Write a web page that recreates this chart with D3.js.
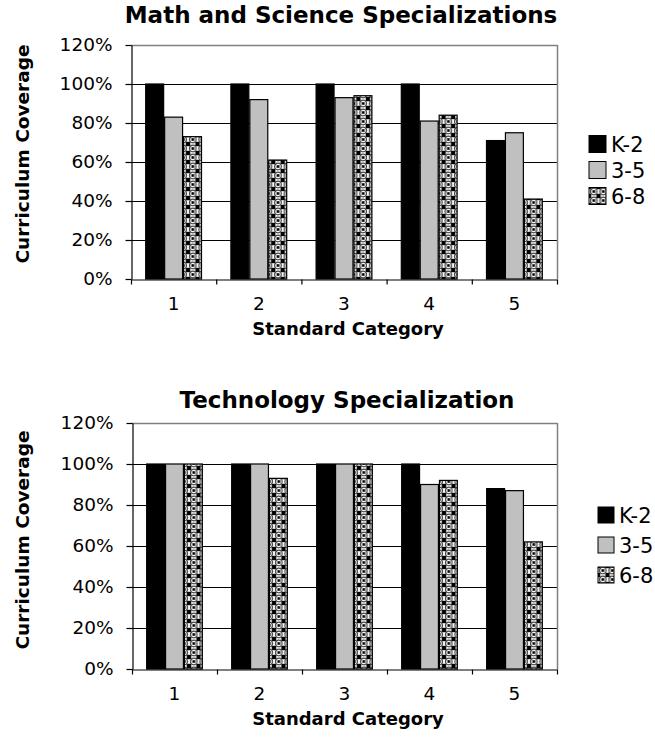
<html>
<script src='https://d3js.org/d3.v7.min.js'></script>
<style>
body {margin:0; background:#fff;}
text {font-family: 'DejaVu Sans', Verdana, sans-serif; fill:#000;}
</style>
<body>
<svg id='chart' width='655' height='740'></svg>
<script>
// data
const categories = ['1', '2', '3', '4', '5'];
const series = ['K-2', '3-5', '6-8'];
const yTicks = [0, 20, 40, 60, 80, 100, 120];

const mathK2 = [100, 100, 100, 100, 71];
const math35 = [83, 92, 93, 81, 75];
const math68 = [73, 61, 94, 84, 41];

const techK2 = [100, 100, 100, 100, 88];
const tech35 = [100, 100, 100, 90, 87];
const tech68 = [100, 93, 100, 92, 62];

const fills = {'K-2': '#000', '3-5': '#c0c0c0', '6-8': 'url(#p68)'};

var svg = d3.select('#chart');

// patterned fill for 6-8 bars
var defs = svg.append('defs');
var pat = defs.append('pattern')
  .attr('id', 'p68')
  .attr('patternUnits', 'userSpaceOnUse')
  .attr('width', 9.5)
  .attr('height', 9);
pat.append('rect').attr('width', 9.5).attr('height', 9).attr('fill', '#fff');
pat.append('circle').attr('cx', 4.75).attr('cy', 4.5).attr('r', 3.3)
  .attr('fill', '#fff').attr('stroke', '#444').attr('stroke-width', 1.3);
pat.append('rect').attr('x', 3.4).attr('y', 3.2).attr('width', 2.8).attr('height', 2.6).attr('fill', '#000');
[[0, 0], [9.5, 0], [0, 9], [9.5, 9]].forEach(function(c) {
  pat.append('rect').attr('x', c[0] - 2.2).attr('y', c[1] - 2.2)
    .attr('width', 4.4).attr('height', 4.4).attr('fill', '#000');
});

function drawChart(cfg) {
  var values = {'K-2': cfg.k2, '3-5': cfg.s35, '6-8': cfg.s68};
  var rows = categories.map(function(c, i) {
    return {cat: c, vals: series.map(function(s) { return {key: s, v: values[s][i]}; })};
  });

  var x = d3.scaleBand().domain(categories).range([cfg.left, cfg.right]).padding(0);
  var xs = d3.scaleBand().domain(series).range([0, x.bandwidth()])
    .paddingInner(0).paddingOuter(0.75);
  var y = d3.scaleLinear().domain([0, 120]).range([cfg.bottom, cfg.top]);
  var xb = d3.scaleLinear().domain([0, 5]).range([cfg.left, cfg.right]);

  var g = svg.append('g');

  // gridlines
  g.selectAll('.grid')
    .data(yTicks.filter(function(d) { return d > 0 && d < 120; }))
    .enter().append('line')
    .attr('x1', cfg.left).attr('x2', cfg.right)
    .attr('y1', function(d) { return y(d) + 0.5; })
    .attr('y2', function(d) { return y(d) + 0.5; })
    .attr('stroke', '#000').attr('stroke-width', 1);

  // plot border top and right (gray)
  g.append('line')
    .attr('x1', cfg.left).attr('x2', cfg.right + 0.5)
    .attr('y1', y(120) + 0.5).attr('y2', y(120) + 0.5)
    .attr('stroke', '#808080').attr('stroke-width', 1.5);
  g.append('line')
    .attr('x1', cfg.right + 0.5).attr('x2', cfg.right + 0.5)
    .attr('y1', y(120)).attr('y2', cfg.bottom)
    .attr('stroke', '#808080').attr('stroke-width', 1.5);

  // bars
  g.selectAll('.grp')
    .data(rows)
    .enter().append('g')
    .attr('transform', function(d) { return 'translate(' + x(d.cat) + ',0)'; })
    .selectAll('rect')
    .data(function(d) { return d.vals; })
    .enter().append('rect')
    .attr('x', function(d) { return xs(d.key) + 0.5; })
    .attr('y', function(d) { return y(d.v); })
    .attr('width', xs.bandwidth() - 1)
    .attr('height', function(d) { return cfg.bottom - y(d.v); })
    .attr('fill', function(d) { return fills[d.key]; })
    .attr('stroke', '#000')
    .attr('stroke-width', 1.2);

  // y axis
  var yAxis = d3.axisLeft(y)
    .tickValues(yTicks)
    .tickFormat(function(d) { return d + '%'; })
    .tickSizeInner(6).tickSizeOuter(0).tickPadding(13);
  g.append('g')
    .attr('transform', 'translate(' + (cfg.left + 0.5) + ',0)')
    .call(yAxis)
    .call(function(a) {
      a.selectAll('text').attr('font-size', 18.5).attr('font-family', "'DejaVu Sans', sans-serif");
      a.selectAll('line, path').attr('stroke', '#000').attr('stroke-width', 1.2);
    });

  // x axis boundary ticks
  g.append('g')
    .attr('transform', 'translate(0,' + (cfg.bottom + 0.5) + ')')
    .call(d3.axisBottom(xb).tickValues([0, 1, 2, 3, 4, 5]).tickFormat('').tickSizeInner(5).tickSizeOuter(0))
    .call(function(a) {
      a.selectAll('line, path').attr('stroke', '#000').attr('stroke-width', 1.2);
    });

  // x axis labels
  g.append('g')
    .attr('transform', 'translate(0,' + cfg.bottom + ')')
    .call(d3.axisBottom(x).tickSize(0).tickPadding(18))
    .call(function(a) {
      a.select('.domain').remove();
      a.selectAll('text').attr('font-size', 18.5).attr('font-family', "'DejaVu Sans', sans-serif");
    });

  // titles
  g.append('text')
    .attr('x', cfg.titleX).attr('y', cfg.titleY)
    .attr('text-anchor', 'middle')
    .attr('font-size', 23).attr('font-weight', 'bold')
    .text(cfg.title);

  g.append('text')
    .attr('x', 348).attr('y', cfg.bottom + 56)
    .attr('text-anchor', 'middle')
    .attr('font-size', 18).attr('font-weight', 'bold')
    .text('Standard Category');

  g.append('text')
    .attr('transform', 'translate(29,' + cfg.yTitleY + ') rotate(-90)')
    .attr('text-anchor', 'middle')
    .attr('font-size', 18.5).attr('font-weight', 'bold')
    .text('Curriculum Coverage');

  // legend
  var leg = g.selectAll('.legend')
    .data(series)
    .enter().append('g')
    .attr('transform', function(d, i) { return 'translate(' + cfg.legX + ',' + (cfg.legY + i * cfg.legStep) + ')'; });
  leg.append('rect')
    .attr('x', 0).attr('y', -cfg.legBox / 2)
    .attr('width', cfg.legBox).attr('height', cfg.legBox)
    .attr('fill', function(d) { return fills[d]; })
    .attr('stroke', '#000').attr('stroke-width', 1);
  leg.append('text')
    .attr('x', cfg.legBox + 5).attr('y', 0).attr('dy', '0.36em')
    .attr('font-size', 21)
    .text(function(d) { return d; });
}

drawChart({
  title: 'Math and Science Specializations', titleX: 341, titleY: 23,
  k2: mathK2, s35: math35, s68: math68,
  left: 131, right: 557, top: 45, bottom: 279, yTitleY: 154,
  legX: 589, legY: 144, legStep: 26, legBox: 17
});

drawChart({
  title: 'Technology Specialization', titleX: 347, titleY: 408,
  k2: techK2, s35: tech35, s68: tech68,
  left: 132, right: 557, top: 423, bottom: 669, yTitleY: 540,
  legX: 598, legY: 515, legStep: 30, legBox: 16
});
</script>
</body>
</html>
